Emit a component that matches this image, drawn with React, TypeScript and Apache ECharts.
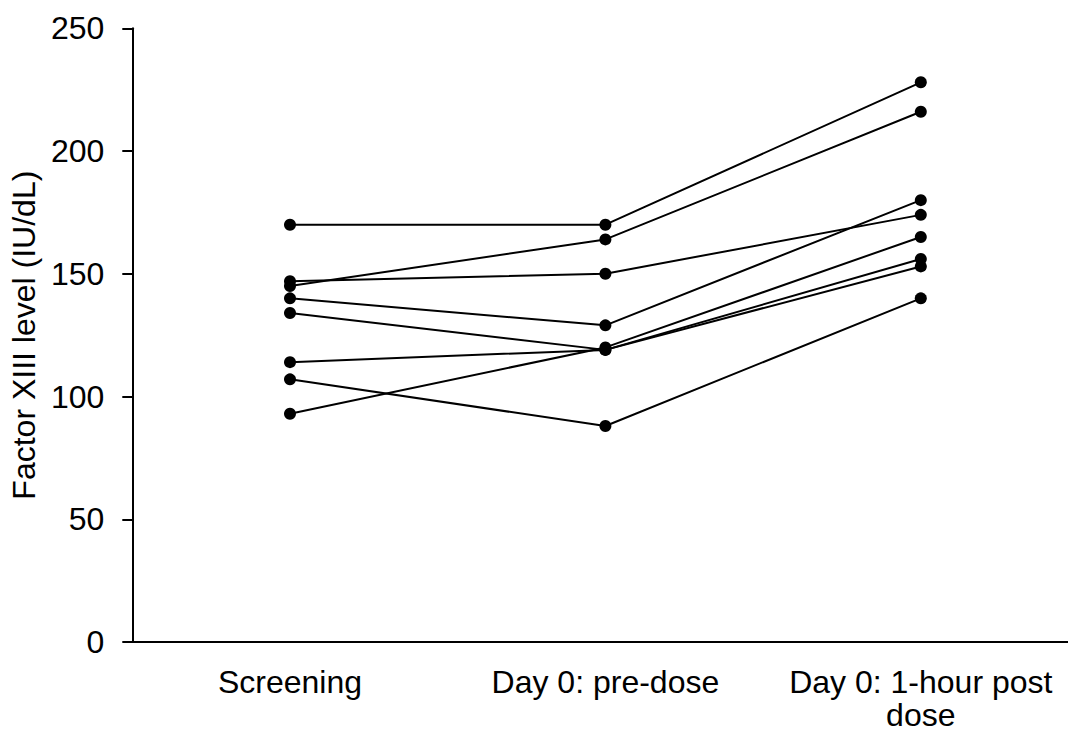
import React, { useEffect, useRef } from "react";
import * as echarts from "echarts";

// Visit time points
const visits = ["Screening", "Day 0: pre-dose", "Day 0: 1-hour post\ndose"];

// Factor XIII level (IU/dL) per subject at each visit
const subject1 = [170, 170, 228];
const subject2 = [145, 164, 216];
const subject3 = [147, 150, 174];
const subject4 = [140, 129, 180];
const subject5 = [93, 120, 165];
const subject6 = [114, 119, 156];
const subject7 = [134, 119, 153];
const subject8 = [107, 88, 140];

const subjects = [subject1, subject2, subject3, subject4, subject5, subject6, subject7, subject8];

const yTicks = [0, 50, 100, 150, 200, 250];

const FONT = "Liberation Sans, Arial, sans-serif";

// Visit positions on the x axis (one unit per visit); the axis runs from half a
// visit before the first one and is cut by the right edge of the canvas.
const visitIndex = visits.map((_, i) => i);
const X_MIN = -0.5;
const X_MAX = 2.4667;

export default function App() {
  const ref = useRef<HTMLDivElement>(null);

  useEffect(() => {
    if (!ref.current) return;
    const chart = echarts.init(ref.current, null, { renderer: "svg" });
    chart.setOption({
      animation: false,
      backgroundColor: "#ffffff",
      grid: { left: 132, top: 28.3, right: 0, height: 614.2 },
      xAxis: {
        type: "value",
        min: X_MIN,
        max: X_MAX,
        splitLine: { show: false },
        axisLine: { show: true, onZero: false, lineStyle: { color: "#000", width: 2 } },
        axisTick: { show: false },
        axisLabel: {
          customValues: visitIndex,
          formatter: (v: number) => visits[Math.round(v)] ?? "",
          color: "#000",
          fontFamily: FONT,
          fontSize: 32,
          lineHeight: 33,
          margin: 23,
        },
      },
      yAxis: {
        type: "value",
        min: yTicks[0],
        max: yTicks[yTicks.length - 1],
        interval: 50,
        name: "Factor XIII level (IU/dL)",
        nameLocation: "middle",
        nameGap: 88,
        nameTextStyle: {
          color: "#000",
          fontFamily: FONT,
          fontSize: 32,
        },
        splitLine: { show: false },
        axisLine: { show: true, onZero: false, lineStyle: { color: "#000", width: 2 } },
        axisTick: { show: true, inside: false, length: 10, lineStyle: { color: "#000", width: 2 } },
        axisLabel: {
          color: "#000",
          fontFamily: FONT,
          fontSize: 32,
          margin: 28,
        },
      },
      series: subjects.map((values, i) => ({
        name: `Subject ${i + 1}`,
        type: "line",
        data: values.map((v, j) => [visitIndex[j], v]),
        symbol: "circle",
        symbolSize: 12,
        itemStyle: { color: "#000" },
        lineStyle: { color: "#000", width: 2 },
      })),
    });
    return () => chart.dispose();
  }, []);

  return (
    <div
      ref={ref}
      style={{ position: "absolute", left: 0, top: 0, width: 1068, height: 731 }}
    />
  );
}
